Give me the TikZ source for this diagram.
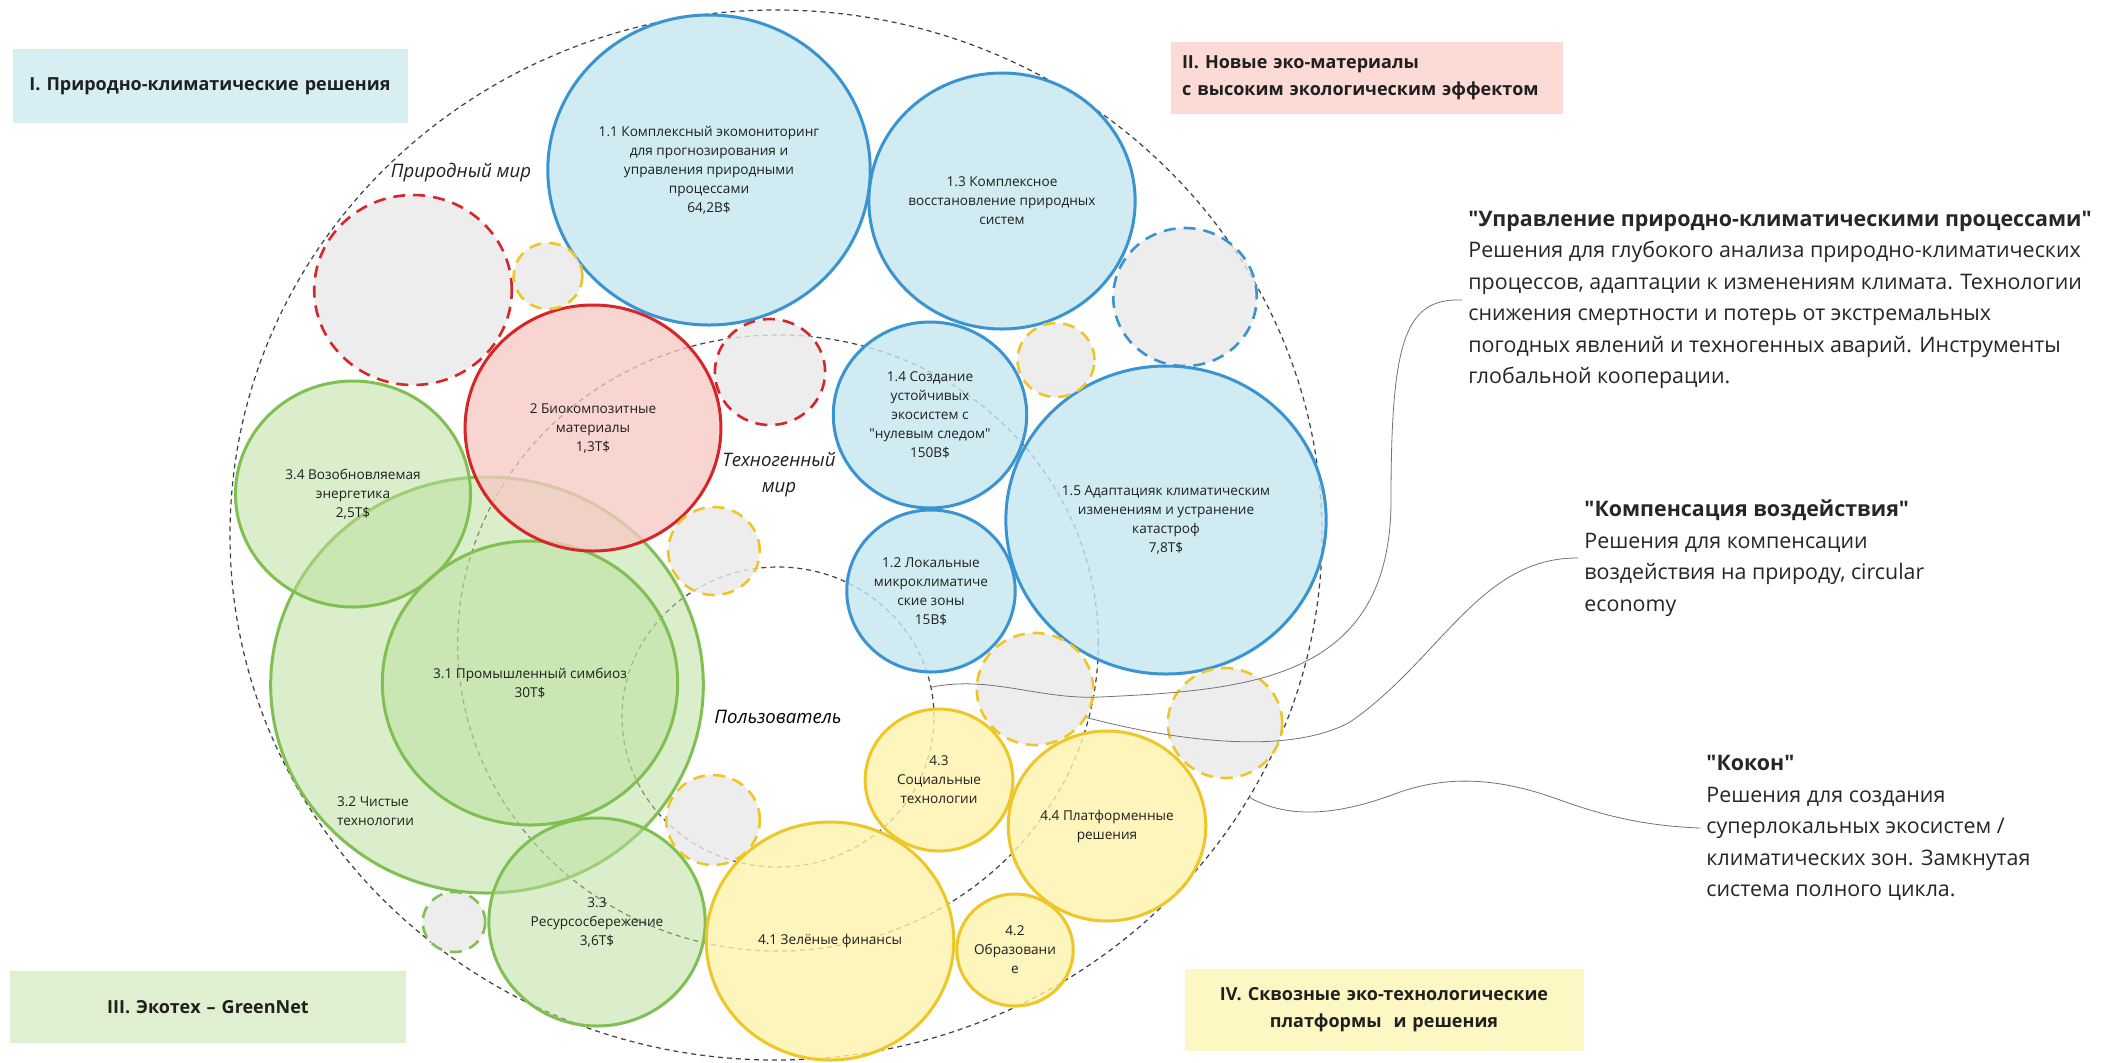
\documentclass[tikz,border=0pt]{standalone}
\usepackage{fontspec}
\setmainfont{Open Sans}
\usetikzlibrary{shapes.geometric}

\definecolor{bluefill}{RGB}{198,230,241}
\definecolor{blueline}{RGB}{58,148,208}
\definecolor{redfill}{RGB}{248,200,196}
\definecolor{redline}{RGB}{214,38,40}
\definecolor{greenfill}{RGB}{185,223,155}
\definecolor{greenline}{RGB}{128,192,82}
\definecolor{yellowfill}{RGB}{253,243,170}
\definecolor{yellowline}{RGB}{238,198,40}
\definecolor{greyfill}{RGB}{233,233,233}
\definecolor{boxblue}{RGB}{215,238,243}
\definecolor{boxred}{RGB}{252,218,213}
\definecolor{boxgreen}{RGB}{222,240,208}
\definecolor{boxyellow}{RGB}{253,247,196}

\newcommand{\bubfont}{\fontsize{6.8}{9.5}\selectfont}
\newcommand{\worldfont}{\fontsize{9.3}{13}\selectfont\itshape}
\newcommand{\boxfont}{\fontsize{9}{13.5}\selectfont\bfseries}
\newcommand{\notefont}{\fontsize{10.7}{15.75}\selectfont}
\newcommand{\qt}[1]{\textquotedbl#1\textquotedbl}

\tikzset{
  bub/.style={ellipse, inner sep=0pt, align=center, minimum height=#1pt,
    minimum width=1.04*#1pt, line width=1.5pt, fill opacity=0.8,
    text opacity=1, text=black!88, font=\bubfont},
  blueb/.style={draw=blueline, fill=bluefill},
  redb/.style={draw=redline, fill=redfill, fill opacity=0.75},
  greenb/.style={draw=greenline, fill=greenfill, fill opacity=0.5},
  yellowb/.style={draw=yellowline, fill=yellowfill},
  gapb/.style={draw=#1, fill=greyfill, line width=1.3pt, dash pattern=on 6pt off 4pt},
  guide/.style={ellipse, inner sep=0pt, draw=black!75, line width=0.6pt,
    dash pattern=on 2.5pt off 2pt, minimum height=#1pt, minimum width=1.04*#1pt,
    font=\worldfont},
  world/.style={align=center, font=\worldfont, text=black!88},
  sector/.style={inner xsep=5.5pt, inner ysep=0pt, font=\boxfont, text=black!88},
  note/.style={anchor=west, align=left, inner sep=3pt, font=\notefont, text=black!85},
  conn/.style={draw=black!55, line width=0.4pt}
}

\begin{document}
\begin{tikzpicture}[x=0.5pt, y=-0.5pt]
  \fill[white] (0,0) rectangle (2108,1062);
  \useasboundingbox (0,0) rectangle (2108,1062);

  \node[guide=525] (nature) at (776,535) {};
  \node[guide=308] (techno) at (778,643) {};
  \node[guide=150] (user) at (778,717) {Пользователь};

  \node[bub=208, greenb] (g32) at (487,685) {};
  \node[bub=113, greenb] (g34) at (353,494) {3.4 Возобновляемая\\энергетика\\2,5T\$};
  \node[bub=142, greenb] (g31) at (530,683) {3.1 Промышленный симбиоз\\30T\$};
  \node[bub=104, greenb] (g33) at (597,922) {3.3\\Ресурсосбережение\\3,6T\$};
  \node[bub=30, gapb=greenline] (gg1) at (454,922) {};
  \node[font=\bubfont, text=black!88, anchor=west, align=left] (g32t) at (330,811) {3.2 Чистые\\технологии};

  \node[bub=123, redb] (r2) at (593,428) {2 Биокомпозитные\\материалы\\1,3T\$};
  \node[bub=95, gapb=redline] (gr1) at (413,290) {};
  \node[bub=53, gapb=redline] (gr2) at (770,372) {};

  \node[bub=155, blueb] (b11) at (709,170) {1.1 Комплексный экомониторинг\\для прогнозирования и\\управления природными\\процессами\\64,2B\$};
  \node[bub=128, blueb] (b13) at (1002,201) {1.3 Комплексное\\восстановление природных\\систем};
  \node[bub=93, blueb] (b14) at (930,415) {1.4 Создание\\устойчивых\\экосистем с\\\qt{нулевым следом}\\150B\$};
  \node[bub=81, blueb] (b12) at (931,591) {1.2 Локальные\\микроклиматиче\\ские зоны\\15B\$};
  \node[bub=154, blueb] (b15) at (1166,520) {1.5 Адаптацияк климатическим\\изменениям и устранение\\катастроф\\7,8T\$};
  \node[bub=69, gapb=blueline] (gb1) at (1185,297) {};

  \node[bub=119, yellowb] (y41) at (830,941) {4.1 Зелёные финансы};
  \node[bub=71, yellowb] (y43) at (939,780) {4.3\\Социальные\\технологии};
  \node[bub=95, yellowb] (y44) at (1107,826) {4.4 Платформенные\\решения};
  \node[bub=56, yellowb] (y42) at (1015,950) {4.2\\Образовани\\е};
  \node[bub=33, gapb=yellowline] (gy1) at (548,276) {};
  \node[bub=37, gapb=yellowline] (gy2) at (1056,360) {};
  \node[bub=44, gapb=yellowline] (gy3) at (714,551) {};
  \node[bub=45, gapb=yellowline] (gy4) at (713,820) {};
  \node[bub=56, gapb=yellowline] (gy5) at (1035,689) {};
  \node[bub=55, gapb=yellowline] (gy6) at (1225,723) {};

  \node[world] (naturet) at (461,173) {Природный мир};
  \node[world] (technot) at (779,475) {Техногенный\\мир};

  \node[sector, fill=boxblue, text width=186.5pt, align=center, minimum height=37pt] (s1) at (210,86) {I. Природно-климатические решения};
  \node[sector, fill=boxred, text width=185pt, align=left, minimum height=36pt] (s2) at (1367,78) {II. Новые эко-материалы\\с высоким экологическим эффектом};
  \node[sector, fill=boxgreen, text width=187pt, align=center, minimum height=36pt] (s3) at (208,1007) {III. Экотех – GreenNet};
  \node[sector, fill=boxyellow, text width=188.5pt, align=center, minimum height=41pt] (s4) at (1384,1010) {IV. Сквозные эко-технологические\\платформы\ \ и решения};

  \node[note] (t1) at (1462,300) {\textbf{\qt{Управление природно-климатическими процессами}}\\Решения для глубокого анализа природно-климатических\\процессов, адаптации к изменениям климата. Технологии\\снижения смертности и потерь от экстремальных\\погодных явлений и техногенных аварий. Инструменты\\глобальной кооперации.};
  \node[note] (t2) at (1578,558) {\textbf{\qt{Компенсация воздействия}}\\Решения для компенсации\\воздействия на природу, circular\\economy};
  \node[note] (t3) at (1700,828) {\textbf{\qt{Кокон}}\\Решения для создания\\суперлокальных экосистем /\\климатических зон. Замкнутая\\система полного цикла.};

  \draw[conn] (user.11) .. controls (990,675) and (1040,700) .. (1100,697) .. controls (1250,690) and (1391,680) .. (1391,500) .. controls (1391,340) and (1405,298) .. (t1.west);
  \draw[conn] (gy5.-29) .. controls (1180,742) and (1290,755) .. (1350,722) .. controls (1440,660) and (1480,557) .. (t2.west);
  \draw[conn] (nature.-29) .. controls (1290,820) and (1340,815) .. (1400,792) .. controls (1450,775) and (1500,778) .. (1560,800) .. controls (1610,818) and (1650,826) .. (t3.west);
\end{tikzpicture}
\end{document}
